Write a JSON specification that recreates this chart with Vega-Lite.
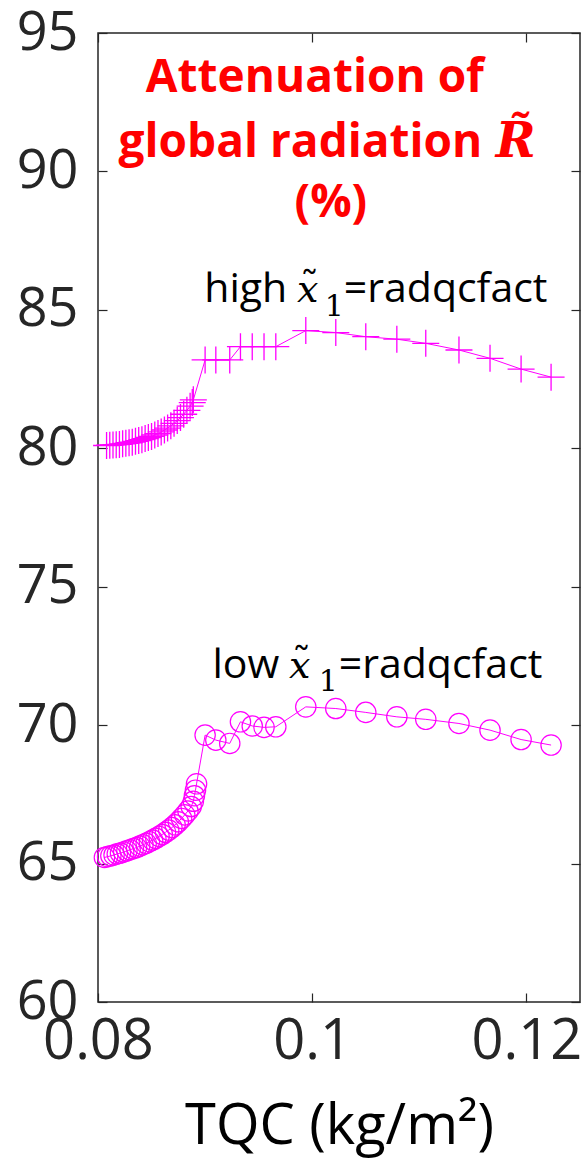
{
  "$schema": "https://vega.github.io/schema/vega-lite/v6.json",
  "width": 482,
  "height": 969,
  "autosize": "none",
  "padding": {"left": 98, "top": 33, "right": 4, "bottom": 162},
  "background": "white",
  "config": {
    "view": {"stroke": "#262626", "strokeWidth": 1.5},
    "font": "Open Sans"
  },
  "datasets": {
    "pts": [
      {"s": "high", "x": 0.0808, "y": 80.10},
      {"s": "high", "x": 0.0811, "y": 80.11},
      {"s": "high", "x": 0.0814, "y": 80.12},
      {"s": "high", "x": 0.0817, "y": 80.13},
      {"s": "high", "x": 0.0820, "y": 80.14},
      {"s": "high", "x": 0.0823, "y": 80.16},
      {"s": "high", "x": 0.0826, "y": 80.18},
      {"s": "high", "x": 0.0829, "y": 80.20},
      {"s": "high", "x": 0.0832, "y": 80.22},
      {"s": "high", "x": 0.0835, "y": 80.25},
      {"s": "high", "x": 0.0838, "y": 80.28},
      {"s": "high", "x": 0.0841, "y": 80.31},
      {"s": "high", "x": 0.0844, "y": 80.35},
      {"s": "high", "x": 0.0847, "y": 80.39},
      {"s": "high", "x": 0.0850, "y": 80.43},
      {"s": "high", "x": 0.0853, "y": 80.48},
      {"s": "high", "x": 0.0856, "y": 80.53},
      {"s": "high", "x": 0.0859, "y": 80.59},
      {"s": "high", "x": 0.0862, "y": 80.66},
      {"s": "high", "x": 0.0865, "y": 80.73},
      {"s": "high", "x": 0.0868, "y": 80.81},
      {"s": "high", "x": 0.0871, "y": 80.90},
      {"s": "high", "x": 0.0874, "y": 81.00},
      {"s": "high", "x": 0.0877, "y": 81.11},
      {"s": "high", "x": 0.0880, "y": 81.23},
      {"s": "high", "x": 0.0883, "y": 81.37},
      {"s": "high", "x": 0.0886, "y": 81.52},
      {"s": "high", "x": 0.0888, "y": 81.65},
      {"s": "high", "x": 0.0889, "y": 81.75},
      {"s": "high", "x": 0.0900, "y": 83.19},
      {"s": "high", "x": 0.0910, "y": 83.19},
      {"s": "high", "x": 0.0923, "y": 83.19},
      {"s": "high", "x": 0.0933, "y": 83.67},
      {"s": "high", "x": 0.0944, "y": 83.67},
      {"s": "high", "x": 0.0955, "y": 83.67},
      {"s": "high", "x": 0.0966, "y": 83.67},
      {"s": "high", "x": 0.0994, "y": 84.25},
      {"s": "high", "x": 0.1022, "y": 84.18},
      {"s": "high", "x": 0.1050, "y": 84.03},
      {"s": "high", "x": 0.1079, "y": 83.94},
      {"s": "high", "x": 0.1106, "y": 83.79},
      {"s": "high", "x": 0.1137, "y": 83.55},
      {"s": "high", "x": 0.1166, "y": 83.25},
      {"s": "high", "x": 0.1195, "y": 82.86},
      {"s": "high", "x": 0.1223, "y": 82.57},
      {"s": "low", "x": 0.0806, "y": 65.22},
      {"s": "low", "x": 0.0809, "y": 65.25},
      {"s": "low", "x": 0.0812, "y": 65.28},
      {"s": "low", "x": 0.0815, "y": 65.31},
      {"s": "low", "x": 0.0818, "y": 65.35},
      {"s": "low", "x": 0.0821, "y": 65.38},
      {"s": "low", "x": 0.0824, "y": 65.42},
      {"s": "low", "x": 0.0827, "y": 65.46},
      {"s": "low", "x": 0.0830, "y": 65.50},
      {"s": "low", "x": 0.0833, "y": 65.54},
      {"s": "low", "x": 0.0836, "y": 65.58},
      {"s": "low", "x": 0.0839, "y": 65.63},
      {"s": "low", "x": 0.0842, "y": 65.68},
      {"s": "low", "x": 0.0845, "y": 65.73},
      {"s": "low", "x": 0.0848, "y": 65.79},
      {"s": "low", "x": 0.0851, "y": 65.85},
      {"s": "low", "x": 0.0854, "y": 65.91},
      {"s": "low", "x": 0.0857, "y": 65.98},
      {"s": "low", "x": 0.0860, "y": 66.05},
      {"s": "low", "x": 0.0863, "y": 66.13},
      {"s": "low", "x": 0.0866, "y": 66.21},
      {"s": "low", "x": 0.0869, "y": 66.30},
      {"s": "low", "x": 0.0872, "y": 66.40},
      {"s": "low", "x": 0.0875, "y": 66.51},
      {"s": "low", "x": 0.0878, "y": 66.63},
      {"s": "low", "x": 0.0881, "y": 66.76},
      {"s": "low", "x": 0.0884, "y": 66.90},
      {"s": "low", "x": 0.0887, "y": 67.06},
      {"s": "low", "x": 0.0889, "y": 67.25},
      {"s": "low", "x": 0.0890, "y": 67.45},
      {"s": "low", "x": 0.0891, "y": 67.65},
      {"s": "low", "x": 0.0892, "y": 67.88},
      {"s": "low", "x": 0.0900, "y": 69.64},
      {"s": "low", "x": 0.0910, "y": 69.46},
      {"s": "low", "x": 0.0923, "y": 69.34},
      {"s": "low", "x": 0.0933, "y": 70.12},
      {"s": "low", "x": 0.0944, "y": 69.97},
      {"s": "low", "x": 0.0955, "y": 69.92},
      {"s": "low", "x": 0.0966, "y": 69.94},
      {"s": "low", "x": 0.0994, "y": 70.66},
      {"s": "low", "x": 0.1022, "y": 70.60},
      {"s": "low", "x": 0.1050, "y": 70.46},
      {"s": "low", "x": 0.1079, "y": 70.30},
      {"s": "low", "x": 0.1106, "y": 70.21},
      {"s": "low", "x": 0.1137, "y": 70.06},
      {"s": "low", "x": 0.1166, "y": 69.82},
      {"s": "low", "x": 0.1195, "y": 69.48},
      {"s": "low", "x": 0.1223, "y": 69.28}
    ],
    "redtitle": [
      {"x": 0.10025, "y": 92.88, "t": "Attenuation of"},
      {"x": 0.09890, "y": 90.53, "t": "global radiation"},
      {"x": 0.10174, "y": 88.36, "t": "(%)"}
    ],
    "redR": [
      {"x": 0.11900, "y": 90.53, "t": "R̃"}
    ],
    "blackmain": [
      {"x": 0.08992, "y": 85.30, "t": "high"},
      {"x": 0.10295, "y": 85.30, "t": "=radqcfact"},
      {"x": 0.09069, "y": 71.72, "t": "low"},
      {"x": 0.10248, "y": 71.72, "t": "=radqcfact"}
    ],
    "blackx": [
      {"x": 0.09858, "y": 85.30, "t": "x"},
      {"x": 0.09783, "y": 71.72, "t": "x"}
    ],
    "blacktilde": [
      {"x": 0.09975, "y": 85.42, "t": "˜"},
      {"x": 0.09900, "y": 71.84, "t": "˜"}
    ],
    "blacksub": [
      {"x": 0.10118, "y": 84.78, "t": "1"},
      {"x": 0.10062, "y": 71.23, "t": "1"}
    ]
  },
  "resolve": {"axis": {"x": "independent", "y": "independent"}},
  "layer": [
    {
      "data": {"name": "pts"},
      "transform": [{"filter": "datum.s === 'high'"}],
      "mark": {"type": "line", "color": "#FF00FF", "strokeWidth": 1},
      "encoding": {
        "x": {
          "field": "x", "type": "quantitative",
          "scale": {"domain": [0.08, 0.125], "nice": false, "zero": false},
          "axis": {
            "orient": "bottom", "values": [0.08, 0.1, 0.12], "format": ".2~f",
            "domain": false, "grid": false, "tickSize": -9, "tickColor": "#262626", "tickWidth": 1.2,
            "labelFont": "Open Sans", "labelFontSize": 56, "labelColor": "#262626",
            "labelPadding": 21, "labelFlush": false, "labelOverlap": false, "labelBound": false,
            "title": "TQC (kg/m²)", "titleFont": "Open Sans", "titleFontSize": 56,
            "titleFontWeight": "normal", "titleColor": "#000000", "titlePadding": 30
          }
        },
        "y": {
          "field": "y", "type": "quantitative",
          "scale": {"domain": [60, 95], "nice": false, "zero": false},
          "axis": {
            "orient": "left", "values": [60, 65, 70, 75, 80, 85, 90, 95],
            "domain": false, "grid": false, "tickSize": -9, "tickColor": "#262626", "tickWidth": 1.2,
            "labelFont": "Open Sans", "labelFontSize": 54, "labelColor": "#262626",
            "labelPadding": 29, "labelFlush": false, "labelOverlap": false, "labelBound": false,
            "title": null
          }
        }
      }
    },
    {
      "data": {"name": "pts"},
      "transform": [{"filter": "datum.s === 'high'"}],
      "mark": {"type": "point", "shape": "M-1,0L1,0M0,-1L0,1", "size": 729, "filled": false, "stroke": "#FF00FF", "strokeWidth": 1.3, "opacity": 1},
      "encoding": {
        "x": {"field": "x", "type": "quantitative", "axis": null},
        "y": {"field": "y", "type": "quantitative", "axis": null}
      }
    },
    {
      "data": {"name": "pts"},
      "transform": [{"filter": "datum.s === 'low'"}],
      "mark": {"type": "line", "color": "#FF00FF", "strokeWidth": 1},
      "encoding": {
        "x": {
          "field": "x", "type": "quantitative",
          "axis": {
            "orient": "top", "values": [0.08, 0.1, 0.12], "labels": false,
            "domain": false, "grid": false, "tickSize": -9, "tickColor": "#262626", "tickWidth": 1.2, "title": null
          }
        },
        "y": {
          "field": "y", "type": "quantitative",
          "axis": {
            "orient": "right", "values": [60, 65, 70, 75, 80, 85, 90, 95], "labels": false,
            "domain": false, "grid": false, "tickSize": -9, "tickColor": "#262626", "tickWidth": 1.2, "title": null
          }
        }
      }
    },
    {
      "data": {"name": "pts"},
      "transform": [{"filter": "datum.s === 'low'"}],
      "mark": {"type": "point", "shape": "circle", "size": 415, "filled": false, "stroke": "#FF00FF", "strokeWidth": 1.2, "opacity": 1},
      "encoding": {
        "x": {"field": "x", "type": "quantitative", "axis": null},
        "y": {"field": "y", "type": "quantitative", "axis": null}
      }
    },
    {
      "data": {"name": "redtitle"},
      "mark": {"type": "text", "font": "Open Sans", "fontWeight": "bold", "fontSize": 46, "color": "#FF0000", "align": "center", "baseline": "alphabetic"},
      "encoding": {
        "x": {"field": "x", "type": "quantitative", "axis": null},
        "y": {"field": "y", "type": "quantitative", "axis": null},
        "text": {"field": "t"}
      }
    },
    {
      "data": {"name": "redR"},
      "mark": {"type": "text", "font": "DejaVu Serif", "fontStyle": "italic", "fontWeight": "bold", "fontSize": 48, "color": "#FF0000", "align": "center", "baseline": "alphabetic"},
      "encoding": {
        "x": {"field": "x", "type": "quantitative", "axis": null},
        "y": {"field": "y", "type": "quantitative", "axis": null},
        "text": {"field": "t"}
      }
    },
    {
      "data": {"name": "blackmain"},
      "mark": {"type": "text", "font": "Open Sans", "fontSize": 41, "color": "#000000", "align": "left", "baseline": "alphabetic"},
      "encoding": {
        "x": {"field": "x", "type": "quantitative", "axis": null},
        "y": {"field": "y", "type": "quantitative", "axis": null},
        "text": {"field": "t"}
      }
    },
    {
      "data": {"name": "blackx"},
      "mark": {"type": "text", "font": "DejaVu Serif", "fontStyle": "italic", "fontSize": 38, "color": "#000000", "align": "left", "baseline": "alphabetic"},
      "encoding": {
        "x": {"field": "x", "type": "quantitative", "axis": null},
        "y": {"field": "y", "type": "quantitative", "axis": null},
        "text": {"field": "t"}
      }
    },
    {
      "data": {"name": "blacktilde"},
      "mark": {"type": "text", "font": "DejaVu Serif", "fontSize": 38, "color": "#000000", "align": "center", "baseline": "alphabetic"},
      "encoding": {
        "x": {"field": "x", "type": "quantitative", "axis": null},
        "y": {"field": "y", "type": "quantitative", "axis": null},
        "text": {"field": "t"}
      }
    },
    {
      "data": {"name": "blacksub"},
      "mark": {"type": "text", "font": "DejaVu Serif", "fontSize": 30, "color": "#000000", "align": "left", "baseline": "alphabetic"},
      "encoding": {
        "x": {"field": "x", "type": "quantitative", "axis": null},
        "y": {"field": "y", "type": "quantitative", "axis": null},
        "text": {"field": "t"}
      }
    }
  ]
}
